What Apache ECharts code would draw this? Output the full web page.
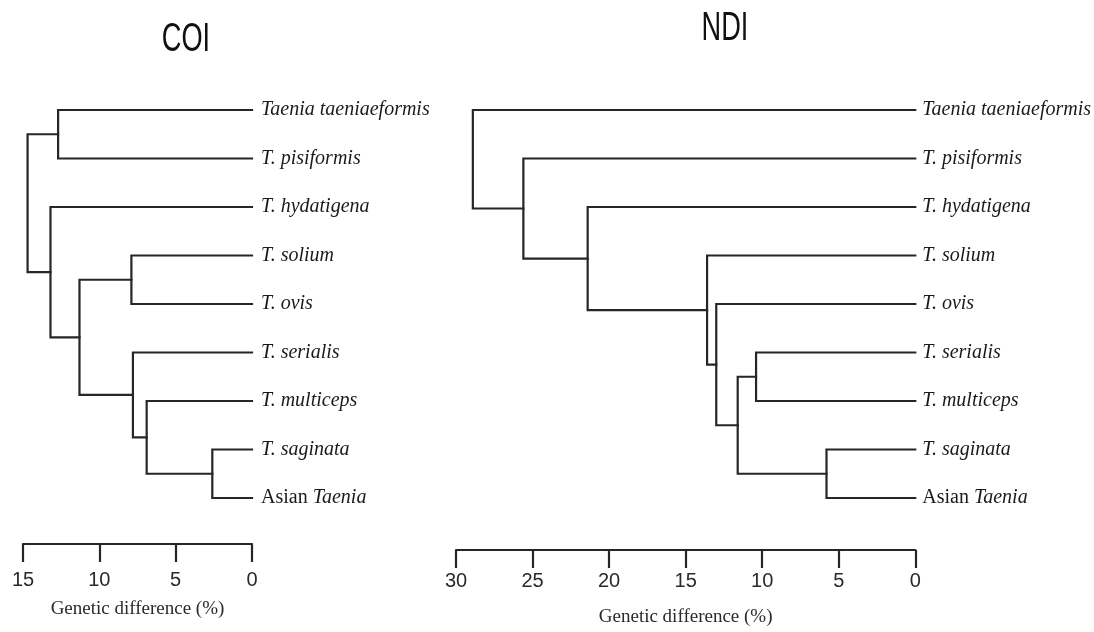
<!DOCTYPE html>
<html>
<head>
<meta charset="utf-8">
<script src="https://cdn.jsdelivr.net/npm/echarts@6/dist/echarts.min.js"></script>
<style>html,body{margin:0;padding:0;background:#fff;}#c{width:1094px;height:632px;}</style>
</head>
<body>
<div id="c"></div>
<script>
// Taxa (leaf order top to bottom)
const taxa = ['Taenia taeniaeformis', 'T. pisiformis', 'T. hydatigena', 'T. solium', 'T. ovis',
              'T. serialis', 'T. multiceps', 'T. saginata', 'Asian Taenia'];
// Linkage: [childA, childB, genetic difference %]; leaves 0-8, new nodes numbered from 9
const coiMerges = [
  [7, 8, 2.6],
  [6, 9, 6.9],
  [5, 10, 7.8],
  [3, 4, 7.9],
  [12, 11, 11.3],
  [2, 13, 13.2],
  [0, 1, 12.7],
  [15, 14, 14.7]
];
const ndiMerges = [
  [7, 8, 5.8],
  [5, 6, 10.4],
  [10, 9, 11.6],
  [4, 11, 13.0],
  [3, 12, 13.6],
  [2, 13, 21.4],
  [1, 14, 25.6],
  [0, 15, 28.9]
];
const coiScaleMax = 15;
const ndiScaleMax = 30;
const scaleStep = 5;
const panelTitles = ['COI', 'NDI'];
const axisTitle = 'Genetic difference (%)';

function buildPaths(merges, n) {
  const nodes = [];
  for (let i = 0; i < n; i++) nodes.push({ x: 0, y: i });
  const paths = [];
  merges.forEach(([a, b, h]) => {
    const A = nodes[a], B = nodes[b];
    nodes.push({ x: h, y: (A.y + B.y) / 2 });
    paths.push({ coords: [[A.x, A.y], [h, A.y], [h, B.y], [B.x, B.y]] });
  });
  return paths;
}

const LINE = '#262626';
const TXT = '#1a1a1a';
const richStyles = {
  i: { fontFamily: 'Liberation Serif', fontStyle: 'italic', fontSize: 20, color: TXT },
  r: { fontFamily: 'Liberation Serif', fontStyle: 'normal', fontSize: 20, color: TXT }
};
function leafLabel(v) {
  const name = taxa[Math.round(v)];
  if (name === undefined) return '';
  if (name.startsWith('Asian ')) return '{r|Asian }{i|' + name.slice(6) + '}';
  return '{i|' + name + '}';
}

function xAxisFor(idx, max, offset, margin, gap) {
  return {
    gridIndex: idx, type: 'value', inverse: true, min: 0, max: max, interval: scaleStep,
    position: 'bottom', offset: offset,
    axisLine: { show: true, onZero: false, lineStyle: { color: LINE, width: 2.2 } },
    axisTick: { show: true, inside: false, length: 18, lineStyle: { color: LINE, width: 2.2 } },
    axisLabel: { margin: margin, fontFamily: 'Liberation Sans', fontSize: 20, color: '#2a2a2a' },
    splitLine: { show: false },
    name: axisTitle, nameLocation: 'middle', nameGap: gap,
    nameTextStyle: { fontFamily: 'Liberation Serif', fontSize: 19, color: '#2a2a2a' }
  };
}
function yAxisFor(idx, margin) {
  return {
    gridIndex: idx, type: 'value', inverse: true, min: 0, max: taxa.length - 1, interval: 1,
    position: 'right',
    axisLine: { show: false }, axisTick: { show: false }, splitLine: { show: false },
    axisLabel: { margin: margin, formatter: leafLabel, rich: richStyles }
  };
}
function treeSeries(idx, merges) {
  return {
    type: 'lines', coordinateSystem: 'cartesian2d', xAxisIndex: idx, yAxisIndex: idx,
    polyline: true, silent: true, animation: false,
    data: buildPaths(merges, taxa.length),
    lineStyle: { color: LINE, width: 2.2, opacity: 1, cap: 'square', join: 'miter' }
  };
}
function titleText(text, x, y) {
  return {
    type: 'text', x: x, y: y, scaleX: 0.68, silent: true,
    style: { text: text, fontFamily: 'Liberation Sans', fontSize: 40, fill: '#111',
             align: 'center', verticalAlign: 'middle' }
  };
}

const chart = echarts.init(document.getElementById('c'), null, { renderer: 'canvas' });
chart.setOption({
  backgroundColor: '#ffffff',
  animation: false,
  graphic: [titleText(panelTitles[0], 186, 40), titleText(panelTitles[1], 725, 29)],
  grid: [
    { left: 23, width: 229, top: 110, height: 388 },
    { left: 456, width: 462, top: 110, height: 388 }
  ],
  xAxis: [
    xAxisFor(0, coiScaleMax, 46, 26, 56),
    xAxisFor(1, ndiScaleMax, 52, 21, 58)
  ],
  yAxis: [yAxisFor(0, 9), yAxisFor(1, 7)],
  series: [treeSeries(0, coiMerges), treeSeries(1, ndiMerges)]
});
</script>
</body>
</html>
